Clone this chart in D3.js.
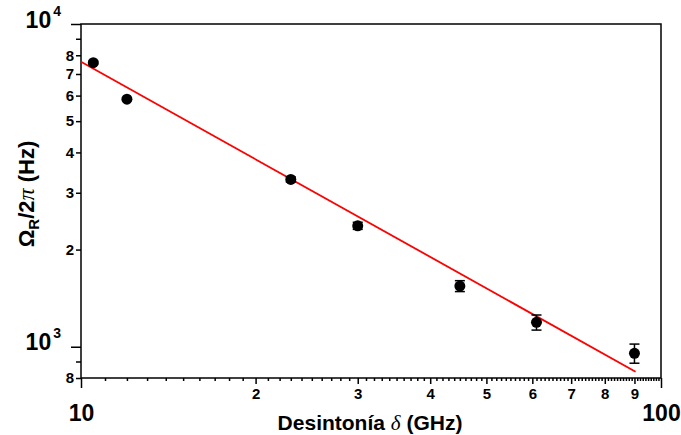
<!DOCTYPE html>
<html>
<head>
<meta charset="utf-8">
<script src="https://cdn.jsdelivr.net/npm/d3@7"></script>
<style>
  body { margin: 0; background: #fff; }
  svg { font-family: "Liberation Sans", Arial, sans-serif; font-weight: bold; }
  .axis path { display: none; }
  .axis line { stroke: #000; stroke-width: 1.5; }
</style>
</head>
<body>
<div id="chart"></div>
<script>
// measured points: detuning (GHz) vs Rabi frequency (Hz)
var detuning = [10.5, 12, 23, 30, 45, 61, 90];
var rabiFreq = [7590, 5850, 3300, 2370, 1542, 1190, 954];
var rabiErr = [60, 60, 60, 60, 60, 64, 65];

// fitted line, read at its two ends
var fitDetuning = [10, 90.4];
var fitRabi = [7640, 837];

// tick values
var xDecadeTicks = [10, 100];
var xLabelTicks = [20, 30, 40, 50, 60, 70, 80, 90];
var yDecadeTicks = [1000, 10000];
var yLabelTicks = [800, 2000, 3000, 4000, 5000, 6000, 7000, 8000];
var yMinorTicks = [900, 9000];

// define svg area
var svgWidth = 681;
var svgHeight = 435;

var margin = { top: 24, right: 20, bottom: 57, left: 81 };
var chartWidth = svgWidth - margin.left - margin.right;
var chartHeight = svgHeight - margin.top - margin.bottom;

var svg = d3.select("#chart")
  .append("svg")
  .attr("width", svgWidth)
  .attr("height", svgHeight);

var chartGroup = svg.append("g")
  .attr("transform", `translate(${margin.left}, ${margin.top})`);

// log scales
var xScale = d3.scaleLog().domain([10, 100]).range([0, chartWidth]);
var yScale = d3.scaleLog().domain([800, 10000]).range([chartHeight, 0]);

// minor x ticks at every integer GHz
var xMinorTicks = d3.range(11, 100).filter(d => d % 10 !== 0);

// x axes
chartGroup.append("g")
  .attr("class", "axis")
  .attr("transform", `translate(0, ${chartHeight})`)
  .call(d3.axisBottom(xScale).tickValues(xMinorTicks).tickSize(3).tickFormat(""));

chartGroup.append("g")
  .attr("class", "axis")
  .attr("transform", `translate(0, ${chartHeight})`)
  .call(d3.axisBottom(xScale).tickValues(xLabelTicks).tickSize(6).tickPadding(4)
    .tickFormat(d => String(d / 10)))
  .selectAll("text")
  .attr("font-size", 15)
  .attr("fill", "#000");

chartGroup.append("g")
  .attr("class", "axis")
  .attr("transform", `translate(0, ${chartHeight})`)
  .call(d3.axisBottom(xScale).tickValues(xDecadeTicks).tickSize(10).tickPadding(17)
    .tickFormat(d3.format("d")))
  .selectAll("text")
  .attr("font-size", 23)
  .attr("fill", "#000");

// y axes
chartGroup.append("g")
  .attr("class", "axis")
  .call(d3.axisLeft(yScale).tickValues(yMinorTicks).tickSize(5).tickFormat(""));

chartGroup.append("g")
  .attr("class", "axis")
  .call(d3.axisLeft(yScale).tickValues(yLabelTicks).tickSize(5).tickPadding(2)
    .tickFormat(d => String(d).charAt(0)))
  .selectAll("text")
  .attr("font-size", 15)
  .attr("fill", "#000");

var yDecade = chartGroup.append("g")
  .attr("class", "axis")
  .call(d3.axisLeft(yScale).tickValues(yDecadeTicks).tickSize(10).tickFormat(""));

yDecade.selectAll(".tick")
  .append("text")
  .attr("x", -20)
  .attr("dy", "0.32em")
  .attr("text-anchor", "end")
  .attr("fill", "#000")
  .each(function(d) {
    var t = d3.select(this);
    t.append("tspan").attr("font-size", 23).text("10");
    t.append("tspan").attr("font-size", 14).attr("dx", 2).attr("dy", -12)
      .text(String(Math.round(Math.log10(d))));
  });

// frame
chartGroup.append("rect")
  .attr("width", chartWidth)
  .attr("height", chartHeight)
  .attr("fill", "none")
  .attr("stroke", "#000")
  .attr("stroke-width", 1.5);

// fit line
chartGroup.append("line")
  .attr("x1", xScale(fitDetuning[0]))
  .attr("y1", yScale(fitRabi[0]))
  .attr("x2", xScale(fitDetuning[1]))
  .attr("y2", yScale(fitRabi[1]))
  .attr("stroke", "#ff0000")
  .attr("stroke-width", 1.8);

// error bars
var points = detuning.map((d, i) => ({ x: d, y: rabiFreq[i], e: rabiErr[i] }));

var errGroup = chartGroup.selectAll(".err")
  .data(points)
  .enter()
  .append("g")
  .attr("class", "err")
  .attr("stroke", "#000")
  .attr("stroke-width", 1.5);

errGroup.append("line")
  .attr("x1", d => xScale(d.x)).attr("x2", d => xScale(d.x))
  .attr("y1", d => yScale(d.y - d.e)).attr("y2", d => yScale(d.y + d.e));
errGroup.append("line")
  .attr("x1", d => xScale(d.x) - 5).attr("x2", d => xScale(d.x) + 5)
  .attr("y1", d => yScale(d.y - d.e)).attr("y2", d => yScale(d.y - d.e));
errGroup.append("line")
  .attr("x1", d => xScale(d.x) - 5).attr("x2", d => xScale(d.x) + 5)
  .attr("y1", d => yScale(d.y + d.e)).attr("y2", d => yScale(d.y + d.e));

// points
chartGroup.selectAll("circle")
  .data(points)
  .enter()
  .append("circle")
  .attr("cx", d => xScale(d.x))
  .attr("cy", d => yScale(d.y))
  .attr("r", 5.5)
  .attr("fill", "#000");

// x axis title
var xTitle = svg.append("text")
  .attr("x", 370)
  .attr("y", 430)
  .attr("text-anchor", "middle")
  .attr("font-size", 21);
xTitle.append("tspan").text("Desintonía ");
xTitle.append("tspan")
  .attr("font-family", "'Liberation Serif', serif")
  .attr("font-style", "italic")
  .attr("font-weight", "normal")
  .text("δ");
xTitle.append("tspan").text(" (GHz)");

// y axis title
var yTitle = svg.append("text")
  .attr("transform", "translate(34, 194) rotate(-90)")
  .attr("text-anchor", "middle")
  .attr("font-size", 22);
yTitle.append("tspan").text("Ω");
yTitle.append("tspan").attr("font-size", 15).attr("dy", 5).text("R");
yTitle.append("tspan").attr("dy", -5).text("/2");
yTitle.append("tspan")
  .attr("font-family", "'Liberation Serif', serif")
  .attr("font-style", "italic")
  .attr("font-weight", "normal")
  .attr("font-size", 24)
  .text("π");
yTitle.append("tspan").text(" (Hz)");
</script>
</body>
</html>
